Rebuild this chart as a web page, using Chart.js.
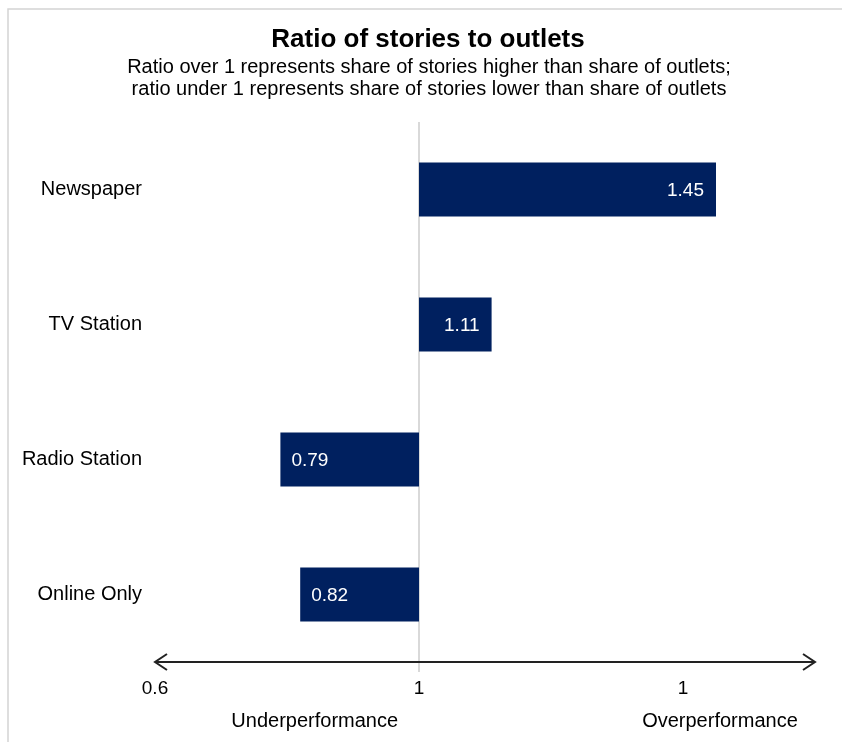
<!DOCTYPE html>
<html>
<head>
<meta charset="utf-8">
<script src="https://cdn.jsdelivr.net/npm/chart.js@4/dist/chart.umd.min.js"></script>
<style>
  body { margin: 0; background: #fff; }
  #wrap { width: 842px; height: 742px; position: relative; }
</style>
</head>
<body>
<div id="wrap"><canvas id="ratioChart"></canvas></div>
<script>
var categories = ['Newspaper', 'TV Station', 'Radio Station', 'Online Only'];
var ratios = [1.45, 1.11, 0.79, 0.82];
var baseline = 1;
var tickValues = [0.6, 1, 1.4];
var tickLabels = ['0.6', '1', '1'];
var sideLabels = ['Underperformance', 'Overperformance'];
var titleText = 'Ratio of stories to outlets';
var subtitleLines = [
    'Ratio over 1 represents share of stories higher than share of outlets;',
    'ratio under 1 represents share of stories lower than share of outlets'
];

var FONT = "'Liberation Sans', Arial, Helvetica, sans-serif";
var barColor = '#00205f';

// frame, titles, baseline line, arrow axis, labels
var decorPlugin = {
    id: 'decor',
    beforeDraw: function(chart) {
        var ctx = chart.ctx;
        ctx.save();
        ctx.fillStyle = '#fff';
        ctx.fillRect(0, 0, chart.width, chart.height);
        ctx.strokeStyle = '#d4d4d4';
        ctx.lineWidth = 1.5;
        ctx.beginPath();
        ctx.moveTo(8, chart.height);
        ctx.lineTo(8, 9);
        ctx.lineTo(chart.width, 9);
        ctx.stroke();

        // title + subtitle (drawn here so they centre on the page, not the plot)
        ctx.fillStyle = '#000';
        ctx.textAlign = 'center';
        ctx.textBaseline = 'middle';
        ctx.font = 'bold 26px ' + FONT;
        ctx.fillText(titleText, 428, 40);
        ctx.font = '20px ' + FONT;
        ctx.fillText(subtitleLines[0], 429, 67);
        ctx.fillText(subtitleLines[1], 429, 89);
        ctx.restore();
    },
    beforeDatasetsDraw: function(chart) {
        var ctx = chart.ctx;
        var area = chart.chartArea;
        var x = chart.scales.x.getPixelForValue(baseline);
        ctx.save();
        ctx.strokeStyle = '#d9d9d9';
        ctx.lineWidth = 2;
        ctx.beginPath();
        ctx.moveTo(x, area.top);
        ctx.lineTo(x, area.bottom + 10);
        ctx.stroke();
        ctx.restore();
    },
    afterDatasetsDraw: function(chart) {
        var ctx = chart.ctx;
        var area = chart.chartArea;
        var xs = chart.scales.x;
        var ys = chart.scales.y;
        ctx.save();
        // value labels inside bar ends
        ctx.font = '19px ' + FONT;
        ctx.fillStyle = '#fff';
        ctx.textBaseline = 'middle';
        ratios.forEach(function(v, i) {
            var px = xs.getPixelForValue(v);
            var py = ys.getPixelForValue(i);
            if (v >= baseline) {
                ctx.textAlign = 'right';
                ctx.fillText(v.toFixed(2), px - 12, py + 1);
            } else {
                ctx.textAlign = 'left';
                ctx.fillText(v.toFixed(2), px + 11, py + 1);
            }
        });
        // double arrow axis
        var y = area.bottom;
        ctx.strokeStyle = '#222';
        ctx.lineWidth = 2;
        ctx.beginPath();
        ctx.moveTo(area.left, y);
        ctx.lineTo(area.right, y);
        ctx.moveTo(area.left + 12, y - 8);
        ctx.lineTo(area.left, y);
        ctx.lineTo(area.left + 12, y + 8);
        ctx.moveTo(area.right - 12, y - 8);
        ctx.lineTo(area.right, y);
        ctx.lineTo(area.right - 12, y + 8);
        ctx.stroke();
        // under / over labels
        ctx.font = '20px ' + FONT;
        ctx.fillStyle = '#000';
        ctx.textAlign = 'center';
        var w = area.right - area.left;
        ctx.fillText(sideLabels[0], area.left + w * 0.242, y + 59);
        ctx.fillText(sideLabels[1], area.left + w * 0.856, y + 59);
        ctx.restore();
    }
};

var ctx = document.getElementById('ratioChart').getContext('2d');

var chart = new Chart(ctx, {
    type: 'bar',
    data: {
        labels: categories,
        datasets: [{
            data: ratios.map(function(v) { return [baseline, v]; }),
            backgroundColor: barColor,
            borderWidth: 0,
            barPercentage: 0.4,
            categoryPercentage: 1
        }]
    },
    options: {
        indexAxis: 'y',
        responsive: true,
        maintainAspectRatio: false,
        animation: false,
        layout: { padding: { left: 0, right: 27, top: 122, bottom: 0 } },
        scales: {
            x: {
                min: 0.6,
                max: 1.6,
                border: { display: false },
                grid: { display: false, drawTicks: false },
                afterBuildTicks: function(scale) {
                    scale.ticks = tickValues.map(function(v) { return { value: v }; });
                },
                afterFit: function(scale) { scale.height = 80; },
                ticks: {
                    padding: 15,
                    color: '#000',
                    maxRotation: 0,
                    autoSkip: false,
                    font: { family: FONT, size: 19 },
                    callback: function(value, index) { return tickLabels[index]; }
                }
            },
            y: {
                border: { display: false },
                grid: { display: false, drawTicks: false },
                afterFit: function(scale) { scale.width = 155; },
                ticks: {
                    padding: 13,
                    color: '#000',
                    font: { family: FONT, size: 20 }
                }
            }
        },
        plugins: {
            legend: { display: false },
            tooltip: { enabled: false },
            title: { display: false }
        }
    },
    plugins: [decorPlugin]
});
</script>
</body>
</html>
